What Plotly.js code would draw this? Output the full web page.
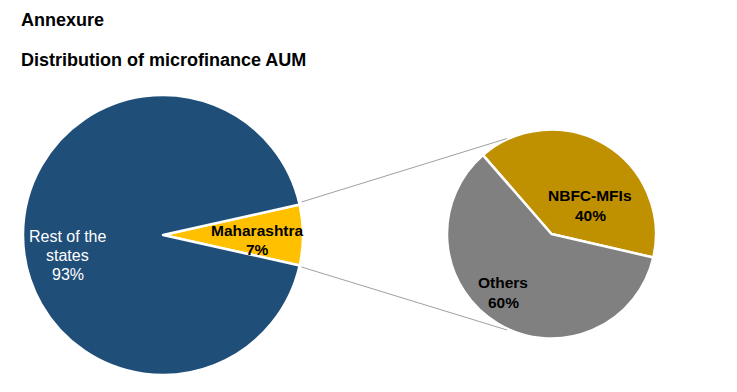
<!DOCTYPE html>
<html>
<head>
<meta charset="utf-8">
<script src="https://cdn.plot.ly/plotly-3.0.1.min.js"></script>
<style>html,body{margin:0;padding:0;background:#fff;}#chart{width:737px;height:392px;}</style>
</head>
<body>
<div id="chart"></div>
<script>
// ---- data ----
const leftLabels = ['Maharashtra', 'Rest of the states'];
const leftValues = [7, 93];
const rightLabels = ['NBFC-MFIs', 'Others'];
const rightValues = [40, 60];
const titleMain = 'Annexure';
const titleSub = 'Distribution of microfinance AUM';

// ---- styling / layout ----
const W = 737, H = 392;
const px = (x) => x / W;
const py = (y) => 1 - y / H;
const leftColors = ['#FFC000', '#1F4E79'];
const rightColors = ['#BF9000', '#808080'];
const leftCenter = [163, 235], leftR = 140;
const rightCenter = [551.5, 234], rightR = 104.5;

const total = (a) => a.reduce((s, v) => s + v, 0);
const pct = (v, a) => Math.round(100 * v / total(a)) + '%';

const leftRotation = 90 - (leftValues[0] / total(leftValues)) * 360 / 2;

const traces = [
  {
    type: 'pie', labels: leftLabels, values: leftValues, sort: false,
    direction: 'clockwise', rotation: leftRotation,
    marker: {colors: leftColors, line: {color: '#ffffff', width: 2.5}},
    textinfo: 'none', hoverinfo: 'label+percent', showlegend: false,
    domain: {x: [px(leftCenter[0] - leftR), px(leftCenter[0] + leftR)],
             y: [py(leftCenter[1] + leftR), py(leftCenter[1] - leftR)]}
  },
  {
    type: 'pie', labels: rightLabels, values: rightValues, sort: false,
    direction: 'clockwise', rotation: -41,
    marker: {colors: rightColors, line: {color: '#ffffff', width: 2.5}},
    textinfo: 'none', hoverinfo: 'label+percent', showlegend: false,
    domain: {x: [px(rightCenter[0] - rightR), px(rightCenter[0] + rightR)],
             y: [py(rightCenter[1] + rightR), py(rightCenter[1] - rightR)]}
  }
];

const font = 'Arial, "Liberation Sans", sans-serif';
const annotations = [];
function addLines(lines, x, yTop, spacing, f) {
  lines.forEach((t, i) => {
    annotations.push({xref: 'paper', yref: 'paper', x: px(x), y: py(yTop + i * spacing),
      xanchor: 'center', yanchor: 'middle', text: t, showarrow: false, font: f});
  });
}
const boldBlack = {family: font, size: 15.5, color: '#000000', weight: 'bold'};
const whiteReg = {family: font, size: 16, color: '#ffffff'};

addLines([leftLabels[0], pct(leftValues[0], leftValues)], 257, 230, 19, boldBlack);
addLines(['Rest of the', 'states', pct(leftValues[1], leftValues)], 67.5, 236.5, 19, whiteReg);
addLines([rightLabels[0], pct(rightValues[0], rightValues)], 590, 195, 20, boldBlack);
addLines([rightLabels[1], pct(rightValues[1], rightValues)], 503, 282, 20, boldBlack);

const titleFont = {family: font, size: 18, color: '#000000', weight: 'bold'};
annotations.push({xref: 'paper', yref: 'paper', x: px(18.5), y: py(19.5), xanchor: 'left', yanchor: 'middle',
  text: '<b>' + titleMain + '</b>', showarrow: false, font: titleFont});
annotations.push({xref: 'paper', yref: 'paper', x: px(18.5), y: py(59.5), xanchor: 'left', yanchor: 'middle',
  text: '<b>' + titleSub + '</b>', showarrow: false, font: titleFont});

const lineStyle = {color: '#A0A0A0', width: 1};
const shapes = [
  {type: 'line', xref: 'paper', yref: 'paper', x0: px(301.5), y0: py(202), x1: px(507), y1: py(138.5), line: lineStyle},
  {type: 'line', xref: 'paper', yref: 'paper', x0: px(301.5), y0: py(267), x1: px(507), y1: py(330), line: lineStyle}
];

const layout = {
  width: W, height: H,
  margin: {l: 0, r: 0, t: 0, b: 0},
  paper_bgcolor: '#ffffff', plot_bgcolor: '#ffffff',
  showlegend: false,
  annotations: annotations,
  shapes: shapes
};

Plotly.newPlot('chart', traces, layout, {displayModeBar: false, staticPlot: true});
</script>
</body>
</html>
